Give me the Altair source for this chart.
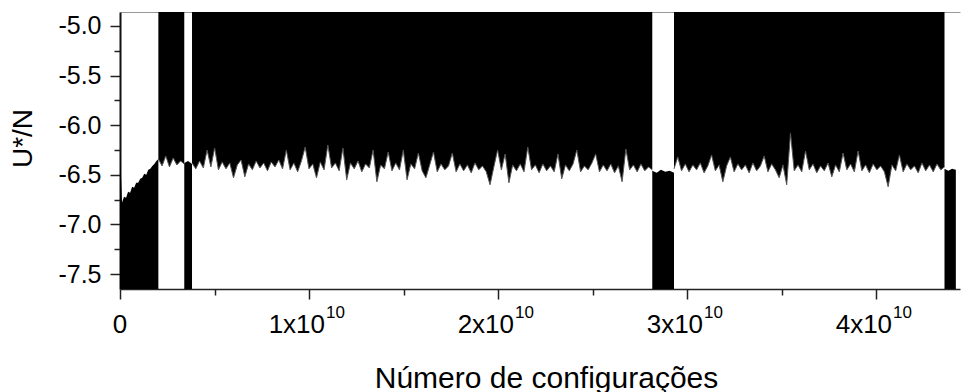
import altair as alt
import numpy as np
import pandas as pd

FONT = "Liberation Sans"

# x in units of 1e10 configurations
X_MAJOR = [0, 1, 2, 3, 4]
X_MINOR = [0.5, 1.5, 2.5, 3.5]
Y_MAJOR = [-7.5, -7.0, -6.5, -6.0, -5.5, -5.0]
Y_MINOR = [-7.25, -6.75, -6.25, -5.75, -5.25]
X_DOMAIN = [0, 4.444]
Y_DOMAIN = [-7.65, -4.86]

TICK_POS = [1, 2, 3, 4]
TICK_TEXT = ["1x10", "2x10", "3x10", "4x10"]
TICK_EXP = ["10", "10", "10", "10"]

# Phase boundaries (x, in 1e10)
LOWER1_RANGE = [0.0, 0.203]
UPPER1_RANGE = [0.203, 0.340]
LOWER2_RANGE = [0.340, 0.381]
UPPER2_RANGE = [0.381, 2.816]
LOWER3_RANGE = [2.816, 2.931]
UPPER3_RANGE = [2.931, 4.362]
LOWER4_RANGE = [4.362, 4.422]

# Upper envelope of the low-energy phases (bottom band)
LOWER1 = [-6.25, -6.78, -6.72, -6.73, -6.67, -6.68, -6.62, -6.63, -6.58, -6.58,
          -6.54, -6.53, -6.49, -6.50, -6.45, -6.44, -6.41, -6.39, -6.36, -6.34]
LOWER2 = [-6.38, -6.36, -6.39]
LOWER3 = [-6.46, -6.48, -6.45, -6.47, -6.46, -6.48]
LOWER4 = [-6.44, -6.46, -6.44, -6.45]

# Lower envelope of the high-energy phases (top band)
UPPER1 = [-6.34, -6.41, -6.31, -6.42, -6.33, -6.40, -6.36, -6.39]
UPPER2 = [-6.38, -6.44, -6.36, -6.43, -6.25, -6.42, -6.23, -6.45, -6.37, -6.44,
          -6.38, -6.53, -6.40, -6.35, -6.52, -6.39, -6.45, -6.36, -6.43, -6.38,
          -6.46, -6.37, -6.42, -6.35, -6.44, -6.25, -6.45, -6.38, -6.47, -6.36,
          -6.22, -6.44, -6.39, -6.53, -6.37, -6.45, -6.20, -6.43, -6.38, -6.46,
          -6.23, -6.55, -6.38, -6.44, -6.36, -6.47, -6.39, -6.43, -6.25, -6.57,
          -6.40, -6.44, -6.27, -6.46, -6.38, -6.45, -6.25, -6.55, -6.39, -6.44,
          -6.28, -6.46, -6.53, -6.40, -6.27, -6.47, -6.39, -6.45, -6.41, -6.28,
          -6.47, -6.39, -6.46, -6.40, -6.48, -6.38, -6.45, -6.41, -6.47, -6.60,
          -6.42, -6.25, -6.45, -6.29, -6.58, -6.40, -6.46, -6.39, -6.47, -6.22,
          -6.45, -6.40, -6.48, -6.39, -6.46, -6.41, -6.47, -6.29, -6.54, -6.40,
          -6.46, -6.39, -6.25, -6.47, -6.41, -6.45, -6.38, -6.29, -6.47, -6.40,
          -6.46, -6.39, -6.48, -6.41, -6.57, -6.24, -6.45, -6.40, -6.47, -6.39,
          -6.46, -6.42, -6.45]
UPPER3 = [-6.44, -6.32, -6.46, -6.39, -6.47, -6.40, -6.45, -6.38, -6.48, -6.41,
          -6.30, -6.46, -6.40, -6.57, -6.41, -6.32, -6.47, -6.39, -6.45, -6.40,
          -6.48, -6.38, -6.46, -6.41, -6.31, -6.47, -6.39, -6.45, -6.53, -6.40,
          -6.60, -6.08, -6.46, -6.40, -6.47, -6.26, -6.45, -6.39, -6.48, -6.41,
          -6.46, -6.38, -6.52, -6.40, -6.47, -6.28, -6.45, -6.39, -6.47, -6.26,
          -6.46, -6.40, -6.48, -6.39, -6.45, -6.41, -6.47, -6.62, -6.40, -6.46,
          -6.30, -6.47, -6.39, -6.45, -6.41, -6.48, -6.38, -6.46, -6.40, -6.47,
          -6.39, -6.45, -6.42]


def block(name, rng, vals):
    xs = np.linspace(rng[0], rng[1], len(vals))
    return pd.DataFrame({"block": name, "x": xs, "u": vals})


lower_df = pd.concat([
    block("l1", LOWER1_RANGE, LOWER1),
    block("l2", LOWER2_RANGE, LOWER2),
    block("l3", LOWER3_RANGE, LOWER3),
    block("l4", LOWER4_RANGE, LOWER4),
], ignore_index=True)

upper_df = pd.concat([
    block("u1", UPPER1_RANGE, UPPER1),
    block("u2", UPPER2_RANGE, UPPER2),
    block("u3", UPPER3_RANGE, UPPER3),
], ignore_index=True)

lab_df = pd.DataFrame({"t": TICK_POS, "lab": TICK_TEXT, "exp": TICK_EXP})
zero_df = pd.DataFrame({"t": [0], "lab": ["0"]})

xscale = alt.Scale(domain=X_DOMAIN, nice=False, zero=False)
yscale = alt.Scale(domain=Y_DOMAIN, nice=False, zero=False)

y_label_expr = "datum.value < 0 ? '-' + format(-datum.value, '.1f') : format(datum.value, '.1f')"

x_major_axis = alt.Axis(
    orient="bottom", values=X_MAJOR, tickSize=10, tickWidth=1.5, tickColor="#222",
    labels=False, domain=True, domainColor="#222", domainWidth=1.5,
    title="Número de configurações", titleFont=FONT, titleFontSize=30,
    titleFontWeight="normal", titleColor="black", titleX=426, titleY=98,
    titleBaseline="alphabetic",
)
y_major_axis = alt.Axis(
    orient="left", values=Y_MAJOR, tickSize=10, tickWidth=1.5, tickColor="#222",
    labelExpr=y_label_expr, labelFont=FONT, labelFontSize=25, labelColor="black",
    labelPadding=9, domain=True, domainColor="#111", domainWidth=2,
    title="U*/N", titleFont=FONT, titleFontSize=28, titleFontWeight="normal",
    titleColor="black", titleX=-83, titleY=126, titleBaseline="bottom",
)
x_minor_axis = alt.Axis(
    orient="bottom", values=X_MINOR, tickSize=6, tickWidth=1.5, tickColor="#222",
    labels=False, domain=False, title=None,
)
y_minor_axis = alt.Axis(
    orient="left", values=Y_MINOR, tickSize=6, tickWidth=1.5, tickColor="#222",
    labels=False, domain=False, title=None,
)
top_axis = alt.Axis(
    orient="top", ticks=False, labels=False, domain=True, domainColor="#999",
    domainWidth=1, title=None,
)

lower_area = alt.Chart(lower_df).mark_area(color="black", clip=True).encode(
    x=alt.X("x:Q", scale=xscale, axis=x_minor_axis),
    y=alt.Y("u:Q", scale=yscale, stack=None, axis=y_minor_axis),
    y2=alt.datum(Y_DOMAIN[0]),
    detail="block:N",
)

upper_area = alt.Chart(upper_df).mark_area(color="black", clip=True).encode(
    x=alt.X("x:Q", scale=xscale, axis=x_major_axis),
    y=alt.Y("u:Q", scale=yscale, stack=None, axis=y_major_axis),
    y2=alt.datum(Y_DOMAIN[1]),
    detail="block:N",
)

# thin grey fringe along the ragged edge of the dense band
upper_edge = alt.Chart(upper_df).mark_line(
    color="#555", strokeWidth=1, clip=True
).encode(
    x=alt.X("x:Q", scale=xscale, axis=None),
    y=alt.Y("u:Q", scale=yscale, axis=None),
    detail="block:N",
)

main_labels = alt.Chart(lab_df).mark_text(
    align="right", baseline="alphabetic", dx=16, font=FONT, fontSize=26, color="black"
).encode(
    x=alt.X("t:Q", scale=xscale, axis=top_axis),
    y=alt.value(321),
    text="lab:N",
)

exp_labels = alt.Chart(lab_df).mark_text(
    align="left", baseline="alphabetic", dx=17, font=FONT, fontSize=17, color="black"
).encode(
    x=alt.X("t:Q", scale=xscale, axis=None),
    y=alt.value(306),
    text="exp:N",
)

zero_label = alt.Chart(zero_df).mark_text(
    align="center", baseline="alphabetic", font=FONT, fontSize=26, color="black"
).encode(
    x=alt.X("t:Q", scale=xscale, axis=None),
    y=alt.value(321),
    text="lab:N",
)

chart = alt.layer(
    lower_area, upper_area, upper_edge, main_labels, exp_labels, zero_label
).resolve_axis(
    x="independent", y="independent"
).properties(
    width=840, height=277,
    autosize=alt.AutoSizeParams(type="none"),
    padding={"left": 120, "top": 12, "right": 1, "bottom": 103},
).configure_view(stroke=None).configure_axis(grid=False)

chart.save("out.html", embed_options={"renderer": "svg", "actions": False})
